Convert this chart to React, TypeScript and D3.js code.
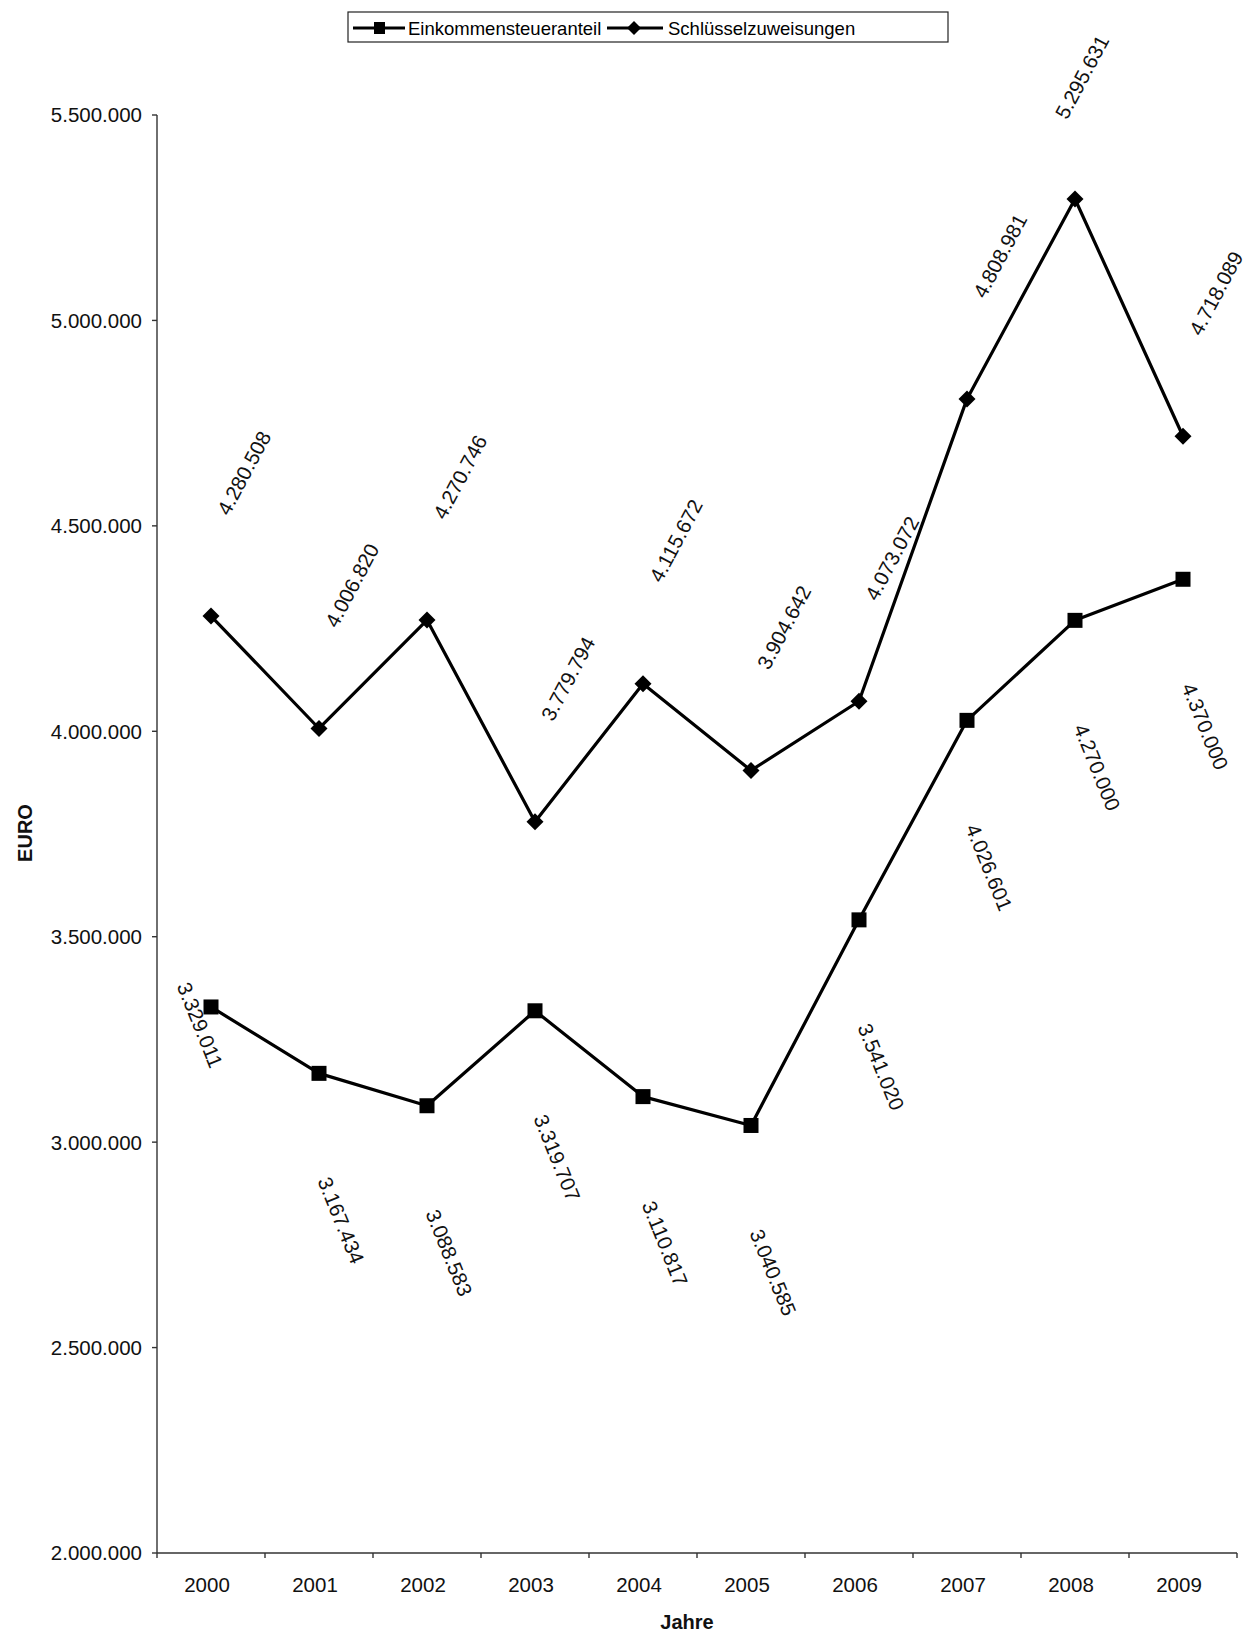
import React from 'react';
import * as d3 from 'd3';

const years = ['2000', '2001', '2002', '2003', '2004', '2005', '2006', '2007', '2008', '2009'];
const einkommensteueranteil = [3329011, 3167434, 3088583, 3319707, 3110817, 3040585, 3541020, 4026601, 4270000, 4370000];
const schluesselzuweisungen = [4280508, 4006820, 4270746, 3779794, 4115672, 3904642, 4073072, 4808981, 5295631, 4718089];
const yTicks = [2000000, 2500000, 3000000, 3500000, 4000000, 4500000, 5000000, 5500000];
const seriesNames = ['Einkommensteueranteil', 'Schlüsselzuweisungen'];

const W = 1248;
const H = 1633;
const M = { left: 157, right: 1237, top: 115, bottom: 1553 };
const FONT = '"Liberation Sans", Arial, Helvetica, sans-serif';

const locale = d3.formatLocale({ decimal: ',', thousands: '.', grouping: [3], currency: ['', ''] });
const fmt = locale.format(',d');

// label placement (relative to the point), with a couple of manual nudges as in the original
const einkLabel = { dx: 22, dy: 147, angle: 68 };
const schlLabel = { dx: 33, dy: -143, angle: -62 };
const einkNudge: Record<string, [number, number]> = { '2000': [-11, 18] };
const schlNudge: Record<string, [number, number]> = { '2008': [7, -122] };

export default function App() {
  const x = d3.scaleBand<string>().domain(years).range([M.left, M.right]).paddingInner(0).paddingOuter(0);
  const y = d3.scaleLinear().domain([2000000, 5500000]).range([M.bottom, M.top]);
  const cx = (d: string) => (x(d) as number) + x.bandwidth() / 2;

  const line = d3
    .line<[string, number]>()
    .x((d) => cx(d[0]))
    .y((d) => y(d[1]));

  const einkData: [string, number][] = years.map((yr, i) => [yr, einkommensteueranteil[i]]);
  const schlData: [string, number][] = years.map((yr, i) => [yr, schluesselzuweisungen[i]]);

  const sq = 15;
  const dia = 8.5;
  const diamondPath = (px: number, py: number, r: number) =>
    `M${px},${py - r}L${px + r},${py}L${px},${py + r}L${px - r},${py}Z`;

  const axisColor = '#333';

  return (
    <svg
      width={W}
      height={H}
      viewBox={`0 0 ${W} ${H}`}
      style={{ position: 'absolute', left: 0, top: 0, background: '#fff' }}
      fontFamily={FONT}
    >
      <rect x={0} y={0} width={W} height={H} fill="#fff" />

      {/* Legend */}
      <g>
        <rect x={348} y={12} width={600} height={30} fill="#fff" stroke="#222" strokeWidth={1.2} />
        <line x1={353} x2={405} y1={28} y2={28} stroke="#000" strokeWidth={3} />
        <rect x={374} y={22} width={11} height={12} fill="#000" />
        <text x={408} y={35} fontSize={18.5} fill="#000">{seriesNames[0]}</text>
        <line x1={607} x2={663} y1={28} y2={28} stroke="#000" strokeWidth={3} />
        <path d={diamondPath(634, 28, 7)} fill="#000" />
        <text x={668} y={35} fontSize={18.5} fill="#000">{seriesNames[1]}</text>
      </g>

      {/* Y axis */}
      <line x1={M.left} x2={M.left} y1={M.top} y2={M.bottom} stroke={axisColor} strokeWidth={1.4} />
      {yTicks.map((t) => (
        <g key={t}>
          <line x1={M.left - 5} x2={M.left} y1={y(t)} y2={y(t)} stroke={axisColor} strokeWidth={1.4} />
          <text x={142} y={y(t)} dy="0.36em" textAnchor="end" fontSize={20.5} fill="#111">
            {fmt(t)}
          </text>
        </g>
      ))}
      <text
        transform={`translate(32, 833) rotate(-90)`}
        textAnchor="middle"
        fontSize={20}
        fontWeight="bold"
        fill="#111"
      >
        EURO
      </text>

      {/* X axis */}
      <line x1={M.left} x2={M.right} y1={M.bottom} y2={M.bottom} stroke={axisColor} strokeWidth={1.4} />
      {years.map((yr) => (
        <line
          key={'t' + yr}
          x1={(x(yr) as number) + x.bandwidth()}
          x2={(x(yr) as number) + x.bandwidth()}
          y1={M.bottom}
          y2={M.bottom + 5}
          stroke={axisColor}
          strokeWidth={1.4}
        />
      ))}
      <line x1={M.left} x2={M.left} y1={M.bottom} y2={M.bottom + 5} stroke={axisColor} strokeWidth={1.4} />
      {years.map((yr) => (
        <text key={'l' + yr} x={cx(yr) - 4} y={1592} textAnchor="middle" fontSize={20.5} fill="#111">
          {yr}
        </text>
      ))}
      <text x={687} y={1629} textAnchor="middle" fontSize={20} fontWeight="bold" fill="#111">
        Jahre
      </text>

      {/* Series lines */}
      <path d={line(einkData) as string} fill="none" stroke="#000" strokeWidth={3.2} strokeLinejoin="round" />
      <path d={line(schlData) as string} fill="none" stroke="#000" strokeWidth={3.2} strokeLinejoin="round" />

      {/* Markers */}
      {einkData.map(([yr, v]) => (
        <rect key={'sq' + yr} x={cx(yr) - sq / 2} y={y(v) - sq / 2} width={sq} height={sq} fill="#000" />
      ))}
      {schlData.map(([yr, v]) => (
        <path key={'dm' + yr} d={diamondPath(cx(yr), y(v), dia)} fill="#000" />
      ))}

      {/* Data labels */}
      {einkData.map(([yr, v]) => {
        const n = einkNudge[yr];
        const lx = cx(yr) + (n ? n[0] : einkLabel.dx);
        const ly = y(v) + (n ? n[1] : einkLabel.dy);
        return (
          <text
            key={'el' + yr}
            transform={`translate(${lx},${ly}) rotate(${einkLabel.angle})`}
            textAnchor="middle"
            dy="0.35em"
            fontSize={20.5}
            fill="#111"
          >
            {fmt(v)}
          </text>
        );
      })}
      {schlData.map(([yr, v]) => {
        const n = schlNudge[yr];
        const lx = cx(yr) + (n ? n[0] : schlLabel.dx);
        const ly = y(v) + (n ? n[1] : schlLabel.dy);
        return (
          <text
            key={'sl' + yr}
            transform={`translate(${lx},${ly}) rotate(${schlLabel.angle})`}
            textAnchor="middle"
            dy="0.35em"
            fontSize={20.5}
            fill="#111"
          >
            {fmt(v)}
          </text>
        );
      })}
    </svg>
  );
}
